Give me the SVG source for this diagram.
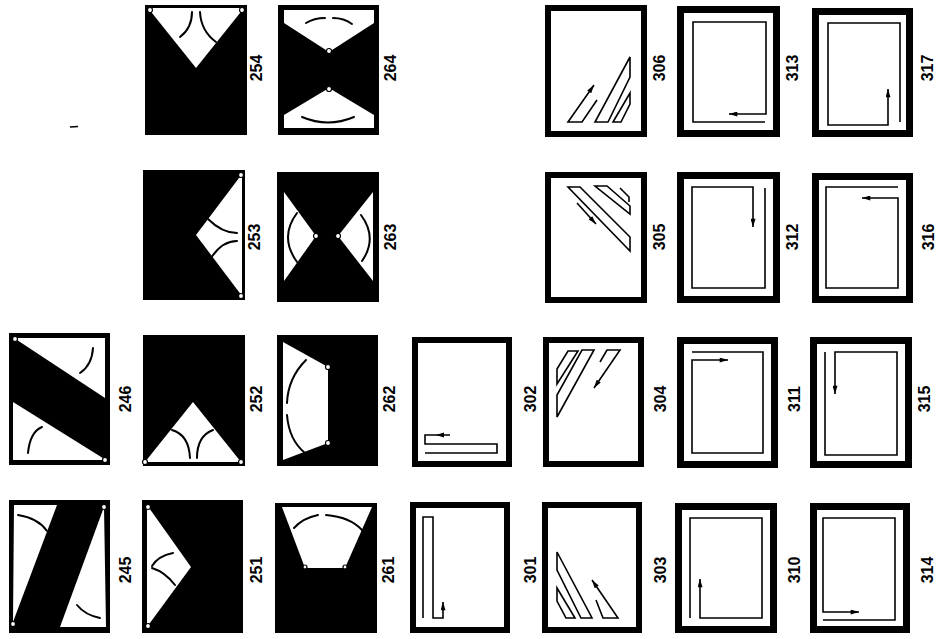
<svg xmlns="http://www.w3.org/2000/svg" width="938" height="639" viewBox="0 0 938 639">
<defs>
<style>
.lbl{font-family:"Liberation Sans",Arial,sans-serif;font-weight:bold;font-size:16px;fill:#000;text-anchor:middle}
.blk{fill:#000}
.wh{fill:#fff}
.arc{fill:none;stroke:#000;stroke-width:2;stroke-linecap:round}
.hinge{fill:#fff;stroke:#000;stroke-width:1.2}
.frame{fill:#fff;stroke:#000;stroke-width:6}
.frame7{fill:#fff;stroke:#000;stroke-width:7}
.ln{fill:none;stroke:#000;stroke-width:1.6}
.ar{fill:none;stroke:#000;stroke-width:1.6;marker-end:url(#ah)}
</style>
<marker id="ah" viewBox="0 0 10 6" refX="10" refY="3" markerWidth="9" markerHeight="5" markerUnits="userSpaceOnUse" orient="auto">
<path d="M0,0 L10,3 L0,6 Z" fill="#000"/>
</marker>
</defs>
<rect width="938" height="639" fill="#fff"/>
<line x1="70" y1="127" x2="78" y2="126.5" stroke="#000" stroke-width="1.5"/>

<!-- Row 1 -->
<g id="p254">
<rect class="blk" x="145" y="5" width="102" height="130"/>
<polygon class="wh" points="148,8 244,8 196,68"/>
<circle class="hinge" cx="150" cy="10" r="2.5"/><circle class="hinge" cx="242" cy="10" r="2.5"/>
<path class="arc" d="M192,12 Q192,28 180,37"/>
<path class="arc" d="M200,12 Q201,31 216,42"/>
<text class="lbl" transform="translate(262,68) rotate(-90)">254</text>
</g>
<g id="p264">
<rect class="blk" x="278" y="5" width="101" height="130"/>
<polygon class="wh" points="284,10 374,10 374,23 329,52 284,23"/>
<polygon class="wh" points="284,128 374,128 374,115 329,88 284,115"/>
<circle class="hinge" cx="329" cy="51" r="2.5"/><circle class="hinge" cx="329" cy="89" r="2.5"/>
<path class="arc" d="M306,23 Q314,18 325,18"/><path class="arc" d="M333,18 Q344,18 352,24"/>
<path class="arc" d="M302,117 Q328,128 354,117"/>
<text class="lbl" transform="translate(396,68) rotate(-90)">264</text>
</g>
<g id="p306">
<rect class="frame" x="548" y="8" width="96" height="126"/>
<polygon class="ln" points="630,57 595,122 608,122 630,77"/>
<polygon class="ln" points="630,93 630,104 621,122 613,122"/>
<polyline class="ar" points="597,100 582,122 568,122 594,85"/>
<text class="lbl" transform="translate(665,68) rotate(-90)">306</text>
</g>
<g id="p313">
<rect class="frame7" x="680.5" y="9.5" width="96" height="124"/>
<polyline class="ar" points="765,122 693,122 693,22 766,22 766,114 729,114"/>
<text class="lbl" transform="translate(798,68) rotate(-90)">313</text>
</g>
<g id="p317">
<rect class="frame7" x="815.5" y="11.5" width="94" height="122"/>
<polyline class="ar" points="900,122 900,23 828,23 828,125 888,125 888,89"/>
<text class="lbl" transform="translate(933,68) rotate(-90)">317</text>
</g>

<!-- Row 2 -->
<g id="p253">
<rect class="blk" x="143" y="170" width="102" height="130"/>
<polygon class="wh" points="242,174 242,296 196,235"/>
<circle class="hinge" cx="241" cy="175" r="2.5"/><circle class="hinge" cx="241" cy="296" r="2.5"/>
<path class="arc" d="M208,219 Q222,233 237,233"/>
<path class="arc" d="M237,241 Q222,241 211,258"/>
<text class="lbl" transform="translate(260,237) rotate(-90)">253</text>
</g>
<g id="p263">
<rect class="blk" x="277" y="172" width="102" height="130"/>
<polygon class="wh" points="284,192 284,281 316,236"/>
<polygon class="wh" points="373,192 373,281 338,236"/>
<circle class="hinge" cx="316" cy="236" r="2.5"/><circle class="hinge" cx="338" cy="236" r="2.5"/>
<path class="arc" d="M297,213 Q279,237 297,262"/>
<path class="arc" d="M361,215 Q378,238 362,261"/>
<text class="lbl" transform="translate(396,237) rotate(-90)">263</text>
</g>
<g id="p305">
<rect class="frame" x="548" y="175" width="96" height="125"/>
<polygon class="ln" points="568,187 580,187 630,237 630,251"/>
<polygon class="ln" points="595,186 607,186 630,206 630,214"/>
<polyline class="ln" points="620,188 629,197 629,202"/>
<line class="ar" x1="577" y1="203" x2="596" y2="224"/>
<text class="lbl" transform="translate(665,237) rotate(-90)">305</text>
</g>
<g id="p312">
<rect class="frame7" x="680.5" y="175.5" width="96" height="124"/>
<polyline class="ar" points="765,188 765,288 692,288 692,187 753,187 753,227"/>
<text class="lbl" transform="translate(798,237) rotate(-90)">312</text>
</g>
<g id="p316">
<rect class="frame7" x="815.5" y="176.5" width="94" height="123"/>
<polyline class="ar" points="898,187 826,187 826,288 898,288 898,198 862,198"/>
<text class="lbl" transform="translate(934,237) rotate(-90)">316</text>
</g>

<!-- Row 3 -->
<g id="p246">
<rect class="blk" x="9" y="333" width="101" height="132"/>
<polygon class="wh" points="14,338 105,338 105,398"/>
<polygon class="wh" points="13,402 13,460 106,460"/>
<circle class="hinge" cx="15" cy="339" r="2.5"/><circle class="hinge" cx="105" cy="460" r="2.5"/>
<path class="arc" d="M93,348 Q92,365 80,373"/>
<path class="arc" d="M42,427 Q30,432 28,453"/>
<text class="lbl" transform="translate(131,399) rotate(-90)">246</text>
</g>
<g id="p252">
<rect class="blk" x="143" y="335" width="102" height="131"/>
<polygon class="wh" points="145,462 241,462 193,402"/>
<circle class="hinge" cx="145" cy="462" r="2.5"/><circle class="hinge" cx="241" cy="462" r="2.5"/>
<path class="arc" d="M172,430 Q189,435 190,458"/>
<path class="arc" d="M213,430 Q197,436 197,458"/>
<text class="lbl" transform="translate(262,399) rotate(-90)">252</text>
</g>
<g id="p262">
<rect class="blk" x="277" y="335" width="101" height="131"/>
<polygon class="wh" points="283,342 328,367 328,443 283,460"/>
<circle class="hinge" cx="328" cy="367" r="2.5"/><circle class="hinge" cx="328" cy="443" r="2.5"/>
<path class="arc" d="M306,360 Q288,378 287,403"/>
<path class="arc" d="M287,415 Q289,440 305,453"/>
<text class="lbl" transform="translate(395,399) rotate(-90)">262</text>
</g>
<g id="p302">
<rect class="frame" x="415" y="340" width="94" height="124"/>
<polyline class="ln" points="450,435 425,435 425,444 497,444 497,453 425,453"/>
<polygon points="436,435 444,432.5 444,437.5" fill="#000"/>
<text class="lbl" transform="translate(536,399) rotate(-90)">302</text>
</g>
<g id="p304">
<rect class="frame" x="546" y="340" width="95" height="124"/>
<polygon class="ln" points="557,369 568,351 578,351 557,384"/>
<polygon class="ln" points="582,350 594,350 557,417 557,395"/>
<polyline class="ar" points="600,362 607,350 620,350 594,388"/>
<text class="lbl" transform="translate(666,399) rotate(-90)">304</text>
</g>
<g id="p311">
<rect class="frame7" x="680.5" y="340.5" width="94" height="124"/>
<polyline class="ar" points="692,352 763,352 763,453 692,453 692,360 728,360"/>
<text class="lbl" transform="translate(800,399) rotate(-90)">311</text>
</g>
<g id="p315">
<rect class="frame7" x="813.5" y="340.5" width="95" height="124"/>
<polyline class="ar" points="825,352 825,455 897,455 897,352 835,352 835,394"/>
<text class="lbl" transform="translate(930,399) rotate(-90)">315</text>
</g>

<!-- Row 4 -->
<g id="p245">
<rect class="blk" x="9" y="500" width="101" height="133"/>
<polygon class="wh" points="14,505 57,505 13,622"/>
<polygon class="wh" points="104,507 106,627 60,627"/>
<circle class="hinge" cx="104" cy="507" r="2.5"/><circle class="hinge" cx="13" cy="624" r="2.5"/>
<path class="arc" d="M18,515 Q38,518 47,531"/>
<path class="arc" d="M77,605 Q85,615 100,618"/>
<text class="lbl" transform="translate(131,570) rotate(-90)">245</text>
</g>
<g id="p251">
<rect class="blk" x="142" y="500" width="101" height="133"/>
<polygon class="wh" points="147,505 147,627 191,567"/>
<circle class="hinge" cx="148" cy="507" r="2.5"/><circle class="hinge" cx="148" cy="626" r="2.5"/>
<path class="arc" d="M173,553 Q158,556 152,566"/>
<path class="arc" d="M152,568 Q165,572 175,585"/>
<text class="lbl" transform="translate(262,570) rotate(-90)">251</text>
</g>
<g id="p261">
<rect class="blk" x="275" y="503" width="102" height="130"/>
<polygon class="wh" points="282,507 372,507 345,568 305,568"/>
<circle class="hinge" cx="305" cy="567" r="2"/><circle class="hinge" cx="345" cy="567" r="2"/>
<path class="arc" d="M294,528 Q303,518 318,515"/>
<path class="arc" d="M326,515 Q350,517 362,530"/>
<text class="lbl" transform="translate(394,570) rotate(-90)">261</text>
</g>
<g id="p301">
<rect class="frame" x="413" y="505" width="94" height="125"/>
<polyline class="ar" points="423,618 423,517 433,517 433,618 443,618 443,602"/>
<text class="lbl" transform="translate(536,570) rotate(-90)">301</text>
</g>
<g id="p303">
<rect class="frame" x="545" y="505" width="94" height="125"/>
<polygon class="ln" points="557,552 557,570 581,618 592,618"/>
<polygon class="ln" points="557,588 557,601 566,618 575,618"/>
<polyline class="ar" points="596,600 603,618 618,618 592,580"/>
<text class="lbl" transform="translate(666,570) rotate(-90)">303</text>
</g>
<g id="p310">
<rect class="frame7" x="678.5" y="506.5" width="95" height="123"/>
<polyline class="ar" points="690,618 690,518 762,518 762,618 700,618 700,579"/>
<text class="lbl" transform="translate(800,570) rotate(-90)">310</text>
</g>
<g id="p314">
<rect class="frame7" x="813.5" y="506.5" width="93" height="123"/>
<polyline class="ar" points="823,620 895,620 895,518 823,518 823,612 859,612"/>
<text class="lbl" transform="translate(933,570) rotate(-90)">314</text>
</g>
</svg>
